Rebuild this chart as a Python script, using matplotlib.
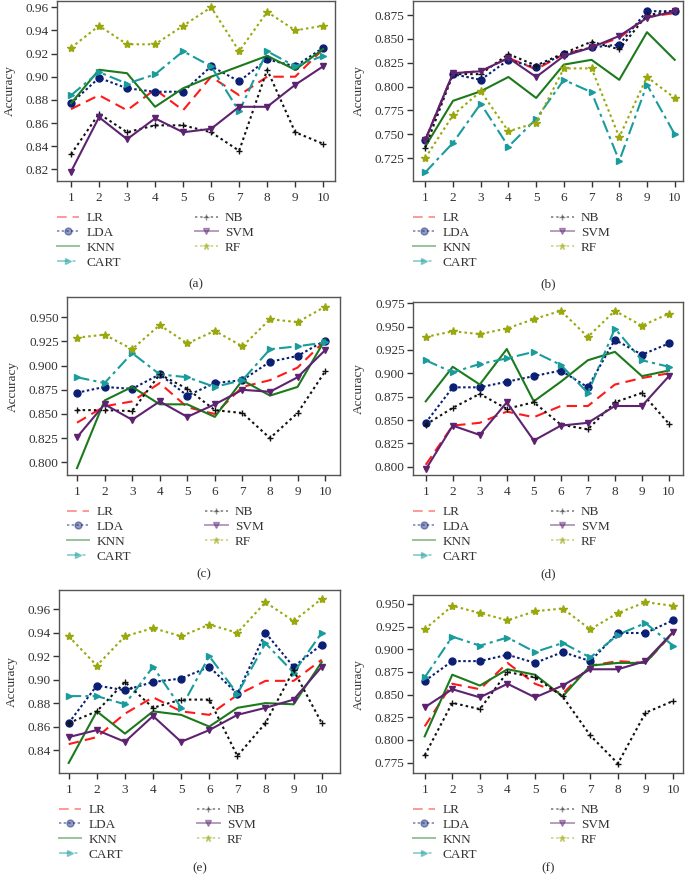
import matplotlib
matplotlib.use("Agg")
import matplotlib.pyplot as plt
from matplotlib.lines import Line2D
import numpy as np

plt.rcParams['font.family'] = ['Liberation Serif', 'DejaVu Serif']

folds = list(range(1, 11))
models = ["LR", "LDA", "KNN", "CART", "NB", "SVM", "RF"]

# accuracy per fold, one dict per panel
acc_a = {
    "LR":   [0.872, 0.884, 0.871, 0.889, 0.871, 0.900, 0.884, 0.900, 0.900, 0.924],
    "LDA":  [0.877, 0.899, 0.890, 0.887, 0.887, 0.909, 0.896, 0.915, 0.909, 0.925],
    "KNN":  [0.877, 0.906, 0.903, 0.874, 0.890, 0.900, 0.909, 0.918, 0.906, 0.924],
    "CART": [0.884, 0.904, 0.894, 0.902, 0.922, 0.909, 0.870, 0.922, 0.909, 0.918],
    "NB":   [0.833, 0.868, 0.852, 0.858, 0.858, 0.852, 0.836, 0.906, 0.852, 0.842],
    "SVM":  [0.818, 0.865, 0.846, 0.864, 0.852, 0.855, 0.874, 0.874, 0.893, 0.909],
    "RF":   [0.925, 0.944, 0.928, 0.928, 0.944, 0.960, 0.922, 0.956, 0.940, 0.944],
}
acc_b = {
    "LR":   [0.744, 0.814, 0.816, 0.830, 0.818, 0.834, 0.841, 0.851, 0.873, 0.877],
    "LDA":  [0.744, 0.813, 0.807, 0.828, 0.820, 0.834, 0.841, 0.844, 0.879, 0.879],
    "KNN":  [0.737, 0.785, 0.795, 0.810, 0.788, 0.823, 0.828, 0.807, 0.857, 0.828],
    "CART": [0.710, 0.741, 0.782, 0.737, 0.766, 0.807, 0.794, 0.722, 0.802, 0.750],
    "NB":   [0.736, 0.813, 0.813, 0.834, 0.822, 0.835, 0.847, 0.839, 0.875, 0.879],
    "SVM":  [0.744, 0.814, 0.816, 0.830, 0.810, 0.832, 0.841, 0.853, 0.872, 0.879],
    "RF":   [0.725, 0.770, 0.795, 0.753, 0.762, 0.819, 0.819, 0.747, 0.810, 0.788],
}
acc_c = {
    "LR":   [0.841, 0.858, 0.863, 0.882, 0.857, 0.850, 0.878, 0.885, 0.898, 0.926],
    "LDA":  [0.872, 0.878, 0.876, 0.891, 0.869, 0.882, 0.885, 0.904, 0.910, 0.926],
    "KNN":  [0.794, 0.864, 0.878, 0.860, 0.860, 0.847, 0.885, 0.869, 0.878, 0.927],
    "CART": [0.888, 0.882, 0.913, 0.891, 0.888, 0.878, 0.885, 0.917, 0.920, 0.924],
    "NB":   [0.854, 0.854, 0.853, 0.891, 0.876, 0.854, 0.851, 0.825, 0.851, 0.894],
    "SVM":  [0.826, 0.860, 0.844, 0.863, 0.847, 0.860, 0.875, 0.873, 0.888, 0.916],
    "RF":   [0.929, 0.932, 0.917, 0.942, 0.923, 0.936, 0.920, 0.948, 0.945, 0.961],
}
acc_d = {
    "LR":   [0.802, 0.844, 0.847, 0.859, 0.853, 0.865, 0.865, 0.888, 0.895, 0.900],
    "LDA":  [0.847, 0.885, 0.885, 0.891, 0.897, 0.903, 0.885, 0.936, 0.920, 0.932],
    "KNN":  [0.870, 0.907, 0.888, 0.926, 0.870, 0.891, 0.914, 0.923, 0.897, 0.903],
    "CART": [0.914, 0.901, 0.910, 0.916, 0.923, 0.909, 0.879, 0.948, 0.914, 0.907],
    "NB":   [0.845, 0.863, 0.878, 0.862, 0.869, 0.845, 0.840, 0.869, 0.879, 0.846],
    "SVM":  [0.797, 0.844, 0.834, 0.869, 0.828, 0.844, 0.847, 0.865, 0.865, 0.897],
    "RF":   [0.939, 0.945, 0.942, 0.948, 0.958, 0.967, 0.939, 0.967, 0.951, 0.964],
}
acc_e = {
    "LR":   [0.845, 0.851, 0.871, 0.885, 0.873, 0.870, 0.887, 0.899, 0.899, 0.917],
    "LDA":  [0.863, 0.895, 0.891, 0.898, 0.901, 0.911, 0.888, 0.940, 0.911, 0.930],
    "KNN":  [0.829, 0.873, 0.854, 0.873, 0.870, 0.860, 0.876, 0.880, 0.879, 0.915],
    "CART": [0.886, 0.886, 0.879, 0.911, 0.876, 0.920, 0.888, 0.931, 0.906, 0.940],
    "NB":   [0.863, 0.873, 0.898, 0.876, 0.883, 0.883, 0.835, 0.863, 0.908, 0.863],
    "SVM":  [0.851, 0.857, 0.847, 0.869, 0.847, 0.857, 0.870, 0.876, 0.883, 0.911],
    "RF":   [0.937, 0.912, 0.937, 0.944, 0.937, 0.947, 0.940, 0.966, 0.950, 0.969],
}
acc_f = {
    "LR":   [0.815, 0.862, 0.856, 0.885, 0.862, 0.851, 0.882, 0.887, 0.885, 0.918],
    "LDA":  [0.865, 0.887, 0.887, 0.894, 0.885, 0.897, 0.887, 0.918, 0.918, 0.932],
    "KNN":  [0.804, 0.872, 0.860, 0.878, 0.872, 0.848, 0.882, 0.885, 0.885, 0.919],
    "CART": [0.869, 0.914, 0.904, 0.913, 0.897, 0.907, 0.891, 0.916, 0.929, 0.904],
    "NB":   [0.783, 0.841, 0.834, 0.875, 0.869, 0.848, 0.805, 0.774, 0.830, 0.843],
    "SVM":  [0.836, 0.856, 0.847, 0.862, 0.847, 0.860, 0.878, 0.878, 0.887, 0.919],
    "RF":   [0.922, 0.948, 0.940, 0.932, 0.942, 0.945, 0.922, 0.940, 0.952, 0.948],
}

styles = {
    "LR":   dict(color="#ff1a1a", ls=(0, (5, 3)), marker=None),
    "LDA":  dict(color="#0b1f74", ls=(0, (1.2, 1.2)), marker="o"),
    "KNN":  dict(color="#1c7a1c", ls="-", marker=None),
    "CART": dict(color="#1a9c9c", ls=(0, (6, 2, 1.5, 2)), marker=">"),
    "NB":   dict(color="#111111", ls=(0, (1.2, 1.5)), marker="+"),
    "SVM":  dict(color="#5e2370", ls="-", marker="v"),
    "RF":   dict(color="#9aa80e", ls=(0, (1.2, 1.5)), marker="*"),
}

W, H = 686, 880
fig = plt.figure(figsize=(W / 100, H / 100), dpi=100)
FS = 9.5

# (data, label, [left, right, top, bottom] px, ylim, yticks, fmt, xlim, caption y)
panels = [
    (acc_a, "(a)", [57, 335, 1, 181], (0.8099, 0.9654), np.arange(0.82, 0.9601, 0.02), "%.2f", (0.5, 10.42), 284),
    (acc_b, "(b)", [413, 683, 1, 181], (0.7009, 0.8897), np.arange(0.725, 0.8751, 0.025), "%.3f", (0.556, 10.3), 284),
    (acc_c, "(c)", [67, 340, 297, 475], (0.7869, 0.971), np.arange(0.800, 0.9501, 0.025), "%.3f", (0.637, 10.54), 574),
    (acc_d, "(d)", [413, 683, 302, 475], (0.7911, 0.9764), np.arange(0.800, 0.9751, 0.025), "%.3f", (0.53, 10.52), 574),
    (acc_e, "(e)", [59, 340, 590, 773], (0.8204, 0.9765), np.arange(0.84, 0.9601, 0.02), "%.2f", (0.655, 10.65), 868),
    (acc_f, "(f)", [413, 683, 595, 773], (0.7636, 0.9599), np.arange(0.775, 0.9501, 0.025), "%.3f", (0.576, 10.36), 868),
]

for data, cap, (l, r, t, b), ylim, yticks, fmt, xlim, capy in panels:
    ax = fig.add_axes([l / W, 1 - b / H, (r - l) / W, (b - t) / H])
    for m in models:
        st = styles[m]
        ax.plot(folds, data[m], color=st["color"], linestyle=st["ls"], lw=1.5,
                marker=st["marker"], markersize=5 if st["marker"] != "*" else 6,
                markeredgewidth=1.0)
    ax.set_xlim(*xlim)
    ax.set_ylim(*ylim)
    ax.set_xticks(folds)
    ax.set_yticks(yticks)
    ax.set_yticklabels([fmt % v for v in yticks])
    ax.tick_params(direction="out", length=4, width=1, labelsize=FS, colors="#333333", pad=2)
    ax.tick_params(axis="x", pad=4)
    for s in ax.spines.values():
        s.set_color("#555555")
        s.set_linewidth(1)
    ax.set_ylabel("Accuracy", fontsize=FS, color="#333333", labelpad=7)

    handles = []
    for m in models:
        st = styles[m]
        handles.append(Line2D([], [], color=st["color"], linestyle=st["ls"], lw=1.4,
                              marker=st["marker"], markersize=5 if st["marker"] else 0,
                              alpha=0.45))
    fig.legend(handles, models, ncol=2, loc="upper left", frameon=False,
               bbox_to_anchor=((l + 0) / W, 1 - (b + 31) / H),
               fontsize=FS, handlelength=1.7, handletextpad=0.55,
               columnspacing=5.6, labelspacing=0.2, borderaxespad=0, borderpad=0,
               labelcolor="#333333")
    fig.text(((l + r) / 2) / W, 1 - capy / H, cap, ha="center", va="center",
             fontsize=FS, color="#333333")

fig.savefig("out.png", dpi=100)
